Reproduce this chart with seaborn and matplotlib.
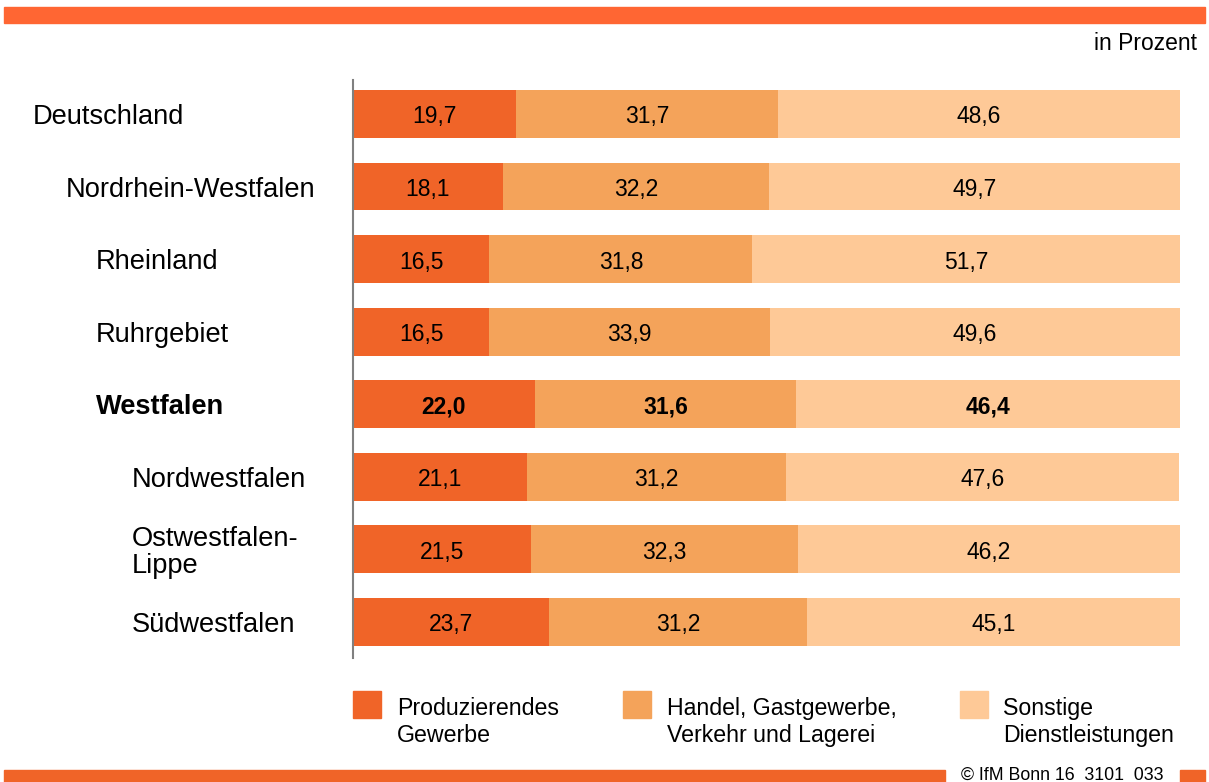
import pandas as pd
import matplotlib.pyplot as plt
import matplotlib.patches as mpatches
import seaborn as sns

# data
regions = ['Deutschland', 'Nordrhein-Westfalen', 'Rheinland', 'Ruhrgebiet',
           'Westfalen', 'Nordwestfalen', 'Ostwestfalen-\nLippe', 'Südwestfalen']
indent = [0, 1, 2, 2, 2, 3, 3, 3]
produzierend = [19.7, 18.1, 16.5, 16.5, 22.0, 21.1, 21.5, 23.7]
handel = [31.7, 32.2, 31.8, 33.9, 31.6, 31.2, 32.3, 31.2]
sonstige = [48.6, 49.7, 51.7, 49.6, 46.4, 47.6, 46.2, 45.1]
legend_labels = ['Produzierendes\nGewerbe', 'Handel, Gastgewerbe,\nVerkehr und Lagerei',
                 'Sonstige\nDienstleistungen']
colors = ['#F06428', '#F4A35A', '#FEC997']

df = pd.DataFrame({'region': regions, 'p': produzierend, 'h': handel, 's': sonstige})
df['c1'] = df['p']
df['c2'] = df['p'] + df['h']
df['c3'] = df['p'] + df['h'] + df['s']

sns.set_style('white')
plt.rcParams['font.family'] = ['Liberation Sans', 'DejaVu Sans']
plt.rcParams['text.color'] = 'black'

W, H = 1209, 782
fig = plt.figure(figsize=(W / 100, H / 100), dpi=100)
ax = fig.add_axes([353 / W, 1 - 658 / H, (1180 - 353) / W, (658 - 80) / H])

# stacked bars: draw cumulative totals back to front
for col, c in zip(['c3', 'c2', 'c1'], colors[::-1]):
    sns.barplot(data=df, x=col, y='region', orient='h', color=c,
                width=0.66, ax=ax, saturation=1, edgecolor='none')

ax.set_xlim(0, 100)
ax.set_ylim(7.496, -0.468)
ax.set_xlabel('')
ax.set_ylabel('')
ax.set_xticks([])
ax.set_yticks([])
for side in ['top', 'right', 'bottom']:
    ax.spines[side].set_visible(False)
ax.spines['left'].set_color('#808080')
ax.spines['left'].set_linewidth(1.5)

# value labels
for i, row in df.iterrows():
    bold = row['region'] == 'Westfalen'
    starts = [0, row['c1'], row['c2']]
    for start, val in zip(starts, [row['p'], row['h'], row['s']]):
        ax.text(start + val / 2, i + 0.04, f'{val:.1f}'.replace('.', ','),
                ha='center', va='center', fontsize=16.5,
                fontweight='bold' if bold else 'normal', color='black')

# category labels with indentation
indent_px = [33, 66, 96, 132]
for i, (name, lvl) in enumerate(zip(regions, indent)):
    y = 114 + 72.57 * i + 3
    fig.text(indent_px[lvl] / W, 1 - y / H, name, ha='left', va='center',
             fontsize=19.6, linespacing=1.03, color='black',
             fontweight='bold' if name == 'Westfalen' else 'normal')

# unit
fig.text(1197 / W, 1 - 43 / H, 'in Prozent', ha='right', va='center', fontsize=16.5)

# decorative bars
fig.patches.append(mpatches.Rectangle((4 / W, 1 - 23 / H), 1201 / W, 16 / H,
                                      transform=fig.transFigure, color='#FF6633'))
fig.patches.append(mpatches.Rectangle((4 / W, 0), 941 / W, 12 / H,
                                      transform=fig.transFigure, color='#F06428'))
fig.patches.append(mpatches.Rectangle((1180 / W, 0), 25 / W, 12 / H,
                                      transform=fig.transFigure, color='#F06428'))
fig.text(1062 / W, 1 - 775 / H, '© IfM Bonn 16  3101  033', ha='center', va='center',
         fontsize=12.8)

# legend
leg_sq = [353, 623, 960]
leg_tx = [397, 667, 1003]
for sq, tx, c, lab in zip(leg_sq, leg_tx, colors, legend_labels):
    fig.patches.append(mpatches.Rectangle((sq / W, 1 - 718 / H), 28 / W, 27 / H,
                                          transform=fig.transFigure, color=c))
    fig.text(tx / W, 1 - 697 / H, lab, ha='left', va='top', fontsize=16.7, linespacing=1.2)

fig.savefig('out.png', dpi=100)
